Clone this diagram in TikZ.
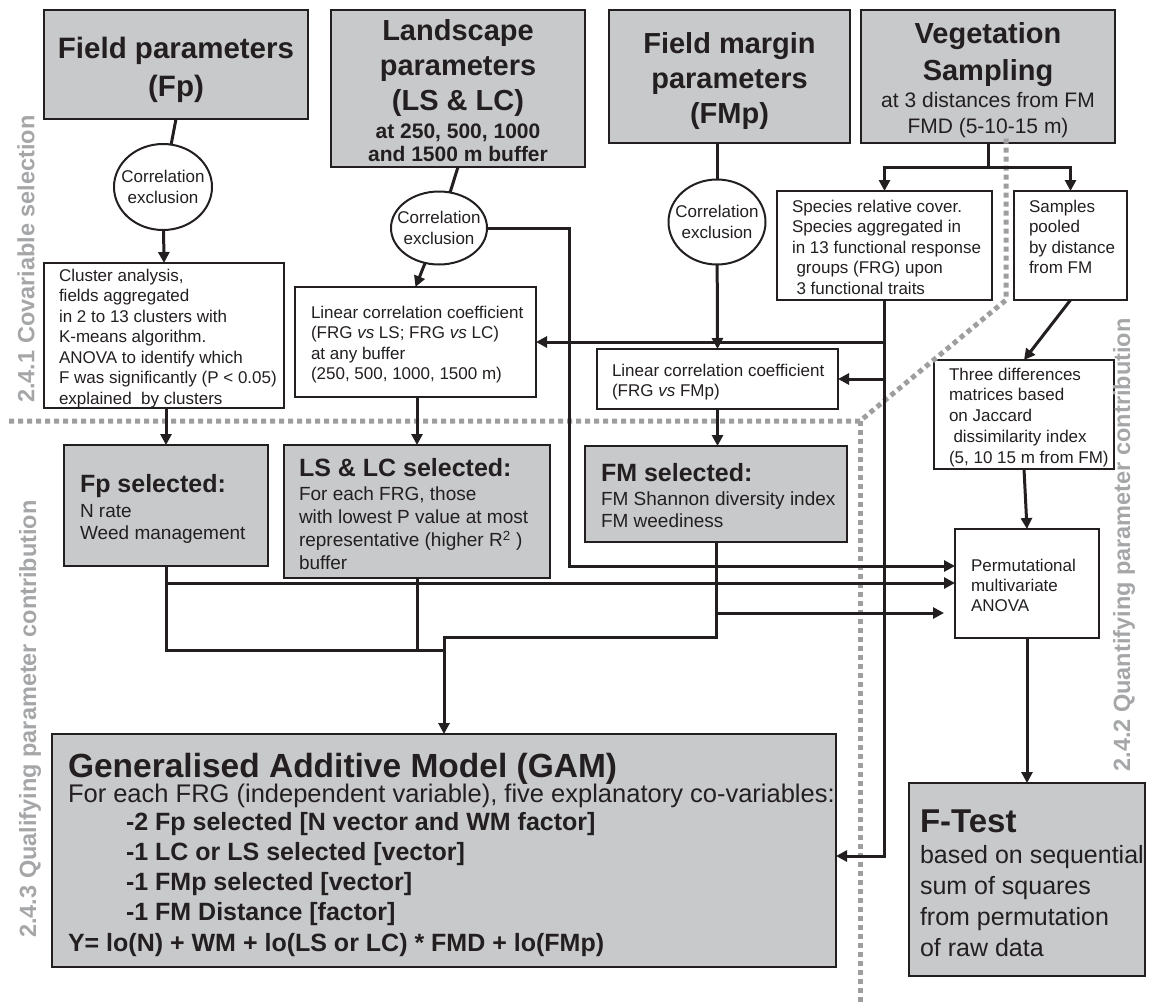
\documentclass[tikz,border=0pt]{standalone}
\usepackage{fontspec}
\setmainfont{Liberation Sans}
\usetikzlibrary{arrows.meta,shapes.geometric,calc}
\definecolor{lc}{RGB}{35,31,32}
\definecolor{boxgray}{RGB}{200,201,203}
\definecolor{labgray}{RGB}{165,166,168}
\definecolor{dotgray}{RGB}{158,158,160}
\newcommand{\fsz}[2]{\fontsize{#1}{#2}\selectfont}
\begin{document}
\begin{tikzpicture}[x=1pt,y=-1pt,
  gbox/.style={draw=lc,fill=boxgray,line width=2.2pt,inner sep=0,outer sep=0,anchor=north west},
  wbox/.style={draw=lc,fill=white,line width=2pt,inner sep=0,outer sep=0,anchor=north west},
  circ/.style={ellipse,draw=lc,fill=white,line width=2pt,inner sep=0,outer sep=0},
  txt/.style={inner sep=0,outer sep=0,text=lc},
  conn/.style={draw=lc,line width=3pt},
  arr/.style={conn,-{Triangle[length=11pt,width=11pt]}},
  sidelab/.style={inner sep=0,text=labgray,font=\fsz{23.5}{28}\bfseries,rotate=90},
  dots/.style={draw=dotgray,line width=5pt,dash pattern=on 5pt off 4pt}
]
\useasboundingbox (0,0) rectangle (1150,1007);

% ---- top gray boxes
\node[gbox,minimum width=264pt,minimum height=109pt] (fp) at (44,10) {};
\node[gbox,minimum width=254pt,minimum height=157pt] (ls) at (331,10) {};
\node[gbox,minimum width=241pt,minimum height=133pt] (fm) at (609,10) {};
\node[gbox,minimum width=254pt,minimum height=133pt] (veg) at (861,10) {};

\node[txt,anchor=north,align=center,font=\fsz{29.5}{38}\bfseries] (fpt) at (176,37.5) {Field parameters\\(Fp)};
\node[txt,anchor=north,align=center,font=\fsz{29}{35}\bfseries] (lst) at (458,19.3) {Landscape\\parameters\\(LS \& LC)};
\node[txt,anchor=north,align=center,font=\fsz{21}{23}\bfseries] (lss) at (458,124.2) {at 250, 500, 1000\\and 1500 m buffer};
\node[txt,anchor=north,align=center,font=\fsz{29}{35}\bfseries] (fmt) at (729.5,32.3) {Field margin\\parameters\\(FMp)};
\node[txt,anchor=north,align=center,font=\fsz{29}{37}\bfseries] (vegt) at (988,22.3) {Vegetation\\Sampling};
\node[txt,anchor=north,align=center,font=\fsz{21}{26}] (vegs) at (988,92.2) {at 3 distances from FM\\FMD (5-10-15 m)};

% ---- circles
\node[circ,minimum width=98pt,minimum height=86pt] (c1) at (163,187) {};
\node[circ,minimum width=96pt,minimum height=73pt] (c2) at (439,228) {};
\node[circ,minimum width=97pt,minimum height=85pt] (c3) at (717,222) {};
\node[txt,align=center,font=\fsz{17}{20.5}] (c1t) at (c1) {Correlation\\exclusion};
\node[txt,align=center,font=\fsz{17}{20.5}] (c2t) at (c2) {Correlation\\exclusion};
\node[txt,align=center,font=\fsz{17}{20.5}] (c3t) at (c3) {Correlation\\exclusion};

% ---- white boxes
\node[wbox,minimum width=240pt,minimum height=145pt] (cluster) at (44,263) {};
\node[wbox,minimum width=241pt,minimum height=110pt] (lcc1) at (295,287) {};
\node[wbox,minimum width=215pt,minimum height=109pt] (species) at (777,191) {};
\node[wbox,minimum width=113pt,minimum height=109pt] (samples) at (1014,191) {};
\node[wbox,minimum width=241pt,minimum height=60pt] (lcc2) at (597,349) {};
\node[wbox,minimum width=180pt,minimum height=109pt] (three) at (934,360) {};
\node[wbox,minimum width=144pt,minimum height=109pt] (perm) at (955,529) {};

\node[txt,anchor=north west,align=left,font=\fsz{17}{20.5}] (clt) at (59,268.7) {Cluster analysis,\\fields aggregated\\in 2 to 13 clusters with\\K-means algorithm.\\ANOVA to identify which\\F was significantly (P < 0.05)\\explained\ \ by clusters};
\node[txt,anchor=north west,align=left,font=\fsz{17}{20.5}] (l1t) at (311,305.7) {Linear correlation coefficient\\(FRG \textit{vs} LS; FRG \textit{vs} LC)\\at any buffer\\(250, 500, 1000, 1500 m)};
\node[txt,anchor=north west,align=left,font=\fsz{17}{20.5}] (spt) at (792,199.7) {Species relative cover.\\Species aggregated in\\in 13 functional response\\\hspace*{4.5pt}groups (FRG) upon\\\hspace*{4.5pt}3 functional traits};
\node[txt,anchor=north west,align=left,font=\fsz{17}{20.5}] (sat) at (1029,199.7) {Samples\\pooled\\by distance\\from FM};
\node[txt,anchor=north west,align=left,font=\fsz{17}{20.5}] (l2t) at (612,363.7) {Linear correlation coefficient\\(FRG \textit{vs} FMp)};
\node[txt,anchor=north west,align=left,font=\fsz{17}{20.8}] (tht) at (949,367.7) {Three differences\\matrices based\\on Jaccard\\\hspace*{4.5pt}dissimilarity index\\(5, 10 15 m from FM)};
\node[txt,anchor=north west,align=left,font=\fsz{17}{20}] (pmt) at (971,558.7) {Permutational\\multivariate\\ANOVA};

% ---- selected gray boxes
\node[gbox,minimum width=204pt,minimum height=121pt] (fpsel) at (64,445) {};
\node[gbox,minimum width=266pt,minimum height=133pt] (lssel) at (284,445) {};
\node[gbox,minimum width=262pt,minimum height=96pt] (fmsel) at (585,446) {};

\node[txt,anchor=base west,font=\fsz{25}{30}\bfseries] (fpst) at (80,492) {Fp selected:};
\node[txt,anchor=north west,align=left,font=\fsz{19}{22}] (fpsb) at (80,504) {N rate\\Weed management};
\node[txt,anchor=base west,font=\fsz{25}{30}\bfseries] (lsst) at (299,476) {LS \& LC selected:};
\node[txt,anchor=north west,align=left,font=\fsz{19}{23}] (lssb) at (299,487) {For each FRG, those\\with lowest P value at most\\representative (higher R\textsuperscript{2} )\\buffer};
\node[txt,anchor=base west,font=\fsz{25}{30}\bfseries] (fmst) at (601,481) {FM selected:};
\node[txt,anchor=north west,align=left,font=\fsz{19}{22}] (fmsb) at (601,492) {FM Shannon diversity index\\FM weediness};

% ---- bottom boxes
\node[gbox,minimum width=784pt,minimum height=233pt] (gam) at (52,734) {};
\node[gbox,minimum width=236pt,minimum height=193pt] (ftest) at (909,783) {};

\node[txt,anchor=base west,font=\fsz{33.5}{38}\bfseries] (gamt) at (68,777) {Generalised Additive Model (GAM)};
\node[txt,anchor=base west,font=\fsz{25.5}{30}] (gams) at (68,802) {For each FRG (independent variable), five explanatory co-variables:};
\node[txt,anchor=north west,align=left,font=\fsz{25}{30}\bfseries] (gamb) at (126,812.75) {-2 Fp selected [N vector and WM factor]\\-1 LC or LS selected [vector]\\-1 FMp selected [vector]\\-1 FM Distance [factor]};
\node[txt,anchor=base west,font=\fsz{25}{30}\bfseries] (gamy) at (68,951) {Y= lo(N) + WM + lo(LS or LC) * FMD + lo(FMp)};
\node[txt,anchor=base west,font=\fsz{33}{38}\bfseries] (ftt) at (920,832) {F-Test};
\node[txt,anchor=north west,align=left,font=\fsz{25}{31}] (ftb) at (920,845.75) {based on sequential\\sum of squares\\from permutation\\of raw data};

% ---- side labels
\node[sidelab] (lab1) at (26,259) {2.4.1 Covariable selection};
\node[sidelab] (lab3) at (30,719) {2.4.3 Qualifying parameter contribution};
\node[sidelab] (lab2) at (1124,545) {2.4.2 Quantifying parameter contribution};

% ---- dotted separators
\draw[dots] (9,421) -- (860,421) -- (1006,300) -- (1006,135);
\draw[dots] (860,421) -- (860,1005);

% ---- connectors
\coordinate (y566) at (0,566);
\coordinate (y583) at (0,583);
\coordinate (y613) at (0,613);
\coordinate (gj) at (444,650);
\coordinate (gk) at (444,637);

\draw[conn] (fp.south) -- (c1);
\draw[arr] (c1) -- (cluster.north);
\draw[conn] (ls.south) -- (c2);
\draw[arr] (c2) -- (lcc1.north);
\draw[conn] (fm.south -| c3) -- (c3);
\draw[arr] (c3) -- (lcc2.north);
\draw[arr] (lcc2.south) -- (lcc2.south |- fmsel.north);
\draw[arr] (cluster.south -| fpsel.north) -- (fpsel.north);
\draw[arr] (lcc1.south -| lssel.north) -- (lssel.north);

\draw[conn] (veg.south) -- ++(0,24) coordinate (vj);
\draw[arr] (vj) -| (species.north);
\draw[arr] (vj) -| (samples.north);
\draw[arr] (samples.south) -- (three.north);
\draw[arr] (three.south) -- (perm.north);
\draw[arr] (perm.south) -- (ftest.north);

\draw[arr] (species.south) |- ([yshift=-5.5pt]gam.east);
\draw[arr] (species.south |- lcc1.east) -- (lcc1.east);
\draw[arr] (species.south |- lcc2.east) -- (lcc2.east);

\draw[arr] (c2.east) -| (569,566) -- (perm.west |- y566);
\draw[arr] (fpsel.south) |- (perm.west |- y583);
\draw[arr,shorten >=11pt] (fmsel.south) |- (perm.west |- y613);

\draw[conn] (fpsel.south) |- (gj);
\draw[conn] (lssel.south) -- (lssel.south |- gj);
\draw[conn] (fmsel.south) |- (gk) -- (gj);
\draw[arr] (gj) -- (gam.north);
\end{tikzpicture}
\end{document}
